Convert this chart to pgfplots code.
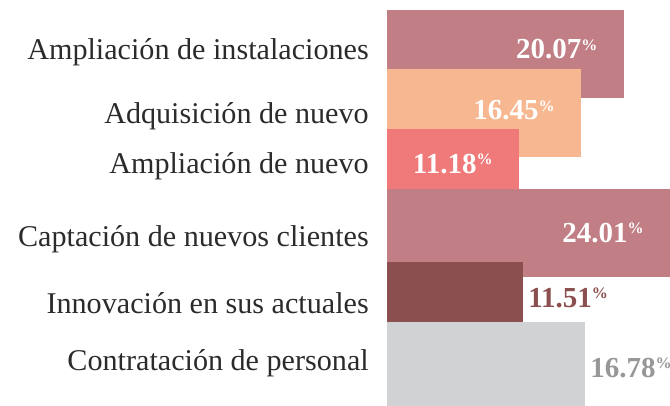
\documentclass[border=0pt]{standalone}
\usepackage{fontspec}
\setmainfont{Liberation Serif}
\usepackage{pgfplots}
\pgfplotsset{compat=1.18}

\definecolor{mauve}{HTML}{C17E84}
\definecolor{peach}{HTML}{F7B891}
\definecolor{coral}{HTML}{F07979}
\definecolor{wine}{HTML}{8B4F4F}
\definecolor{lightgray}{HTML}{D1D2D4}
\definecolor{midgray}{HTML}{97979A}
\definecolor{labeltxt}{HTML}{2B2B2B}

\newcommand{\pct}{\raisebox{6.6pt}{\fontsize{12}{13}\selectfont\bfseries\%}}

\pgfplotsset{
  valin/.style={every node near coord/.append style={anchor=base east, inner sep=0pt, text=white, xshift=-19.5pt, yshift=#1}},
  valout/.style={every node near coord/.append style={anchor=base west, inner sep=0pt, xshift=4pt, yshift=#1}},
}

\begin{document}
\begin{tikzpicture}
\begin{axis}[
    scale only axis,
    width=212.25pt, height=304.5pt,
    xmin=0, xmax=24.01,
    ymin=0, ymax=406,
    y dir=reverse,
    axis line style={draw=none},
    tick style={draw=none},
    xtick=\empty,
    ytick={60,123,173,246,313,370},
    yticklabels={Ampliación de instalaciones, Adquisición de nuevo, Ampliación de nuevo,
                 Captación de nuevos clientes, Innovación en sus actuales, Contratación de personal},
    yticklabel style={anchor=base east, inner sep=0pt, xshift=-13.5pt,
                      font=\fontsize{22.6}{25}\selectfont, text=labeltxt},
    /pgf/number format/assume math mode=true,
    /pgf/number format/.cd, fixed, fixed zerofill, precision=2, /pgfplots/.cd,
    nodes near coords={\pgfmathprintnumber{\pgfplotspointmeta}\pct},
    every node near coord/.append style={font=\fontsize{21.75}{24}\selectfont\bfseries},
    point meta=x,
]
\addplot[xbar, bar width=88, bar shift=0pt, fill=mauve, draw=none, valin=-3.75pt]
    coordinates {(20.07,54)};
\addplot[xbar, bar width=88, bar shift=0pt, fill=peach, draw=none, valin=-5.25pt]
    coordinates {(16.45,113)};
\addplot[xbar, bar width=60, bar shift=0pt, fill=coral, draw=none, valin=-10.5pt]
    coordinates {(11.18,159)};
\addplot[xbar, bar width=88, bar shift=0pt, fill=mauve, draw=none, valin=-6.75pt]
    coordinates {(24.01,233)};
\addplot[xbar, bar width=60, bar shift=0pt, fill=wine, draw=none, valout=-11.25pt,
    every node near coord/.append style={text=wine}]
    coordinates {(11.51,292)};
\addplot[xbar, bar width=88, bar shift=0pt, fill=lightgray, draw=none, valout=-8.25pt,
    every node near coord/.append style={text=midgray}]
    coordinates {(16.78,366)};
\end{axis}
\pgfresetboundingbox
\path[use as bounding box] (-290.25pt,0) rectangle (212.25pt,304.5pt);
\end{tikzpicture}
\end{document}
